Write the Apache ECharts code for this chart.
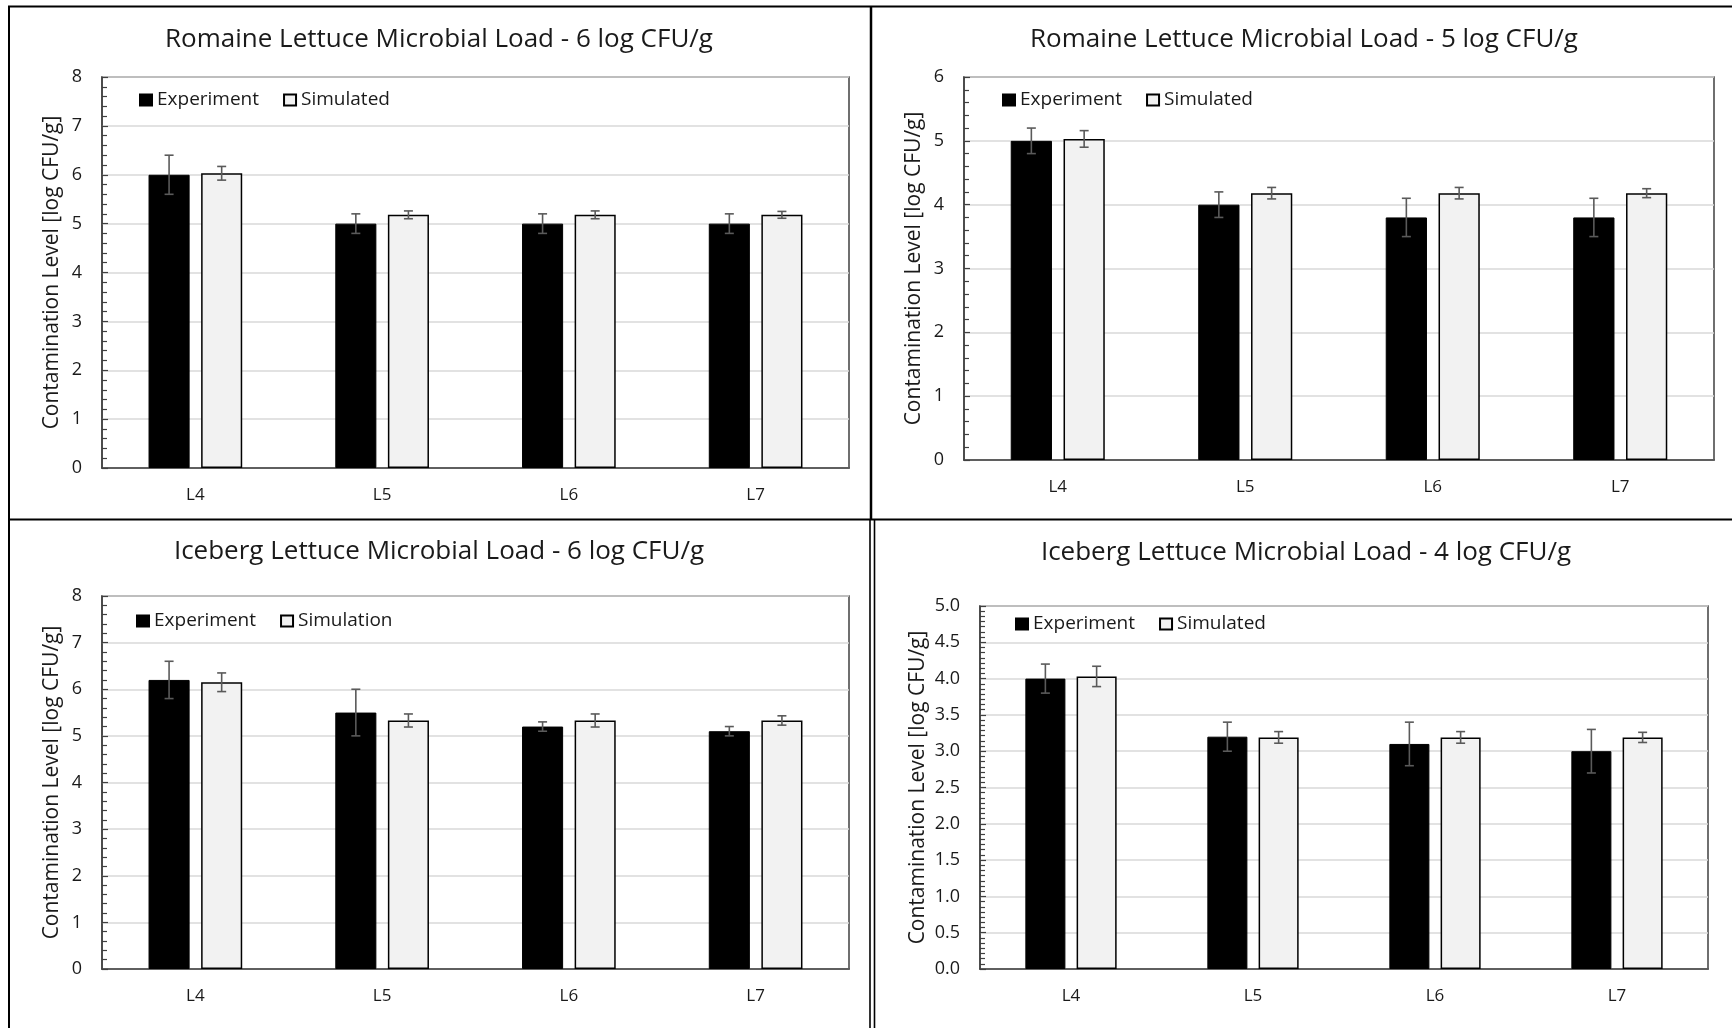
<!DOCTYPE html>
<html>
<head>
<meta charset="utf-8">
<script src="https://cdn.jsdelivr.net/npm/echarts@6/dist/echarts.min.js"></script>
<style>
html,body{margin:0;padding:0;background:#fff;}
#chart{width:1732px;height:1028px;}
</style>
</head>
<body>
<div id="chart"></div>
<script>
// ---- data ----
const categories = ['L4', 'L5', 'L6', 'L7'];

const romaine6Exp = [6.0, 5.0, 5.0, 5.0];
const romaine6ExpErr = [0.4, 0.2, 0.2, 0.2];
const romaine6Sim = [6.03, 5.18, 5.18, 5.18];
const romaine6SimErr = [0.14, 0.08, 0.08, 0.07];

const romaine5Exp = [5.0, 4.0, 3.8, 3.8];
const romaine5ExpErr = [0.2, 0.2, 0.3, 0.3];
const romaine5Sim = [5.03, 4.18, 4.18, 4.18];
const romaine5SimErr = [0.13, 0.09, 0.09, 0.07];

const iceberg6Exp = [6.2, 5.5, 5.2, 5.1];
const iceberg6ExpErr = [0.4, 0.5, 0.1, 0.1];
const iceberg6Sim = [6.15, 5.33, 5.33, 5.33];
const iceberg6SimErr = [0.2, 0.14, 0.14, 0.1];

const iceberg4Exp = [4.0, 3.2, 3.1, 3.0];
const iceberg4ExpErr = [0.2, 0.2, 0.3, 0.3];
const iceberg4Sim = [4.03, 3.19, 3.19, 3.19];
const iceberg4SimErr = [0.14, 0.08, 0.08, 0.07];

const titles = [
  'Romaine Lettuce Microbial Load - 6 log CFU/g',
  'Romaine Lettuce Microbial Load - 5 log CFU/g',
  'Iceberg Lettuce Microbial Load - 6 log CFU/g',
  'Iceberg Lettuce Microbial Load - 4 log CFU/g'
];
const yAxisName = 'Contamination Level [log CFU/g]';
const expName = 'Experiment';
const simNames = ['Simulated', 'Simulated', 'Simulation', 'Simulated'];
const yMax = [8, 6, 8, 5];
const yInterval = [1, 1, 1, 0.5];
const yMinorSplit = [5, 5, 5, 7];

const panels = [
  {exp: romaine6Exp, expErr: romaine6ExpErr, sim: romaine6Sim, simErr: romaine6SimErr},
  {exp: romaine5Exp, expErr: romaine5ExpErr, sim: romaine5Sim, simErr: romaine5SimErr},
  {exp: iceberg6Exp, expErr: iceberg6ExpErr, sim: iceberg6Sim, simErr: iceberg6SimErr},
  {exp: iceberg4Exp, expErr: iceberg4ExpErr, sim: iceberg4Sim, simErr: iceberg4SimErr}
];

// ---- layout ----
const FONT = '"Open Sans", "Noto Sans", sans-serif';
const TXT = '#1a1a1a';
const grids = [
  {left: 102, top: 77, width: 747, height: 391},
  {left: 964, top: 77, width: 750, height: 383},
  {left: 102, top: 596, width: 747, height: 373},
  {left: 980, top: 606, width: 728, height: 363}
];
const titlePos = [[439, 27], [1304, 27], [439, 539], [1306, 540]];
const legendPos = [[139, 90], [1002, 90], [136, 611], [1015, 614]];
const nameGaps = [39, 39, 39, 51];
const xLabelMargins = [19, 19, 19, 19];
const BAR_W = 0.22, BAR_GAP = 0.28;

function errRender(side) {
  return function (params, api) {
    const xi = api.value(0);
    const lo = api.coord([xi, api.value(1)]);
    const hi = api.coord([xi, api.value(2)]);
    const band = api.size([1, 0])[0];
    const w = band * BAR_W;
    const off = side * (w + w * BAR_GAP) / 2;
    const x = lo[0] + off;
    const cap = 4.5;
    const st = {stroke: '#5a5a5a', lineWidth: 1.6};
    return {
      type: 'group',
      children: [
        {type: 'line', shape: {x1: x, y1: hi[1], x2: x, y2: lo[1]}, style: st},
        {type: 'line', shape: {x1: x - cap, y1: hi[1], x2: x + cap, y2: hi[1]}, style: st},
        {type: 'line', shape: {x1: x - cap, y1: lo[1], x2: x + cap, y2: lo[1]}, style: st}
      ]
    };
  };
}

const option = {
  animation: false,
  backgroundColor: '#fff',
  title: [], legend: [], grid: [], xAxis: [], yAxis: [], series: [],
  graphic: [
    {type: 'line', shape: {x1: 8, y1: 6.5, x2: 1732, y2: 6.5}, style: {stroke: '#000', lineWidth: 2}},
    {type: 'line', shape: {x1: 9, y1: 6, x2: 9, y2: 1028}, style: {stroke: '#000', lineWidth: 2}},
    {type: 'line', shape: {x1: 8, y1: 519.5, x2: 1732, y2: 519.5}, style: {stroke: '#000', lineWidth: 2}},
    {type: 'line', shape: {x1: 871, y1: 6, x2: 871, y2: 520}, style: {stroke: '#000', lineWidth: 2.5}},
    {type: 'line', shape: {x1: 870, y1: 519, x2: 870, y2: 1028}, style: {stroke: '#000', lineWidth: 1.6}},
    {type: 'line', shape: {x1: 874.5, y1: 519, x2: 874.5, y2: 1028}, style: {stroke: '#000', lineWidth: 1.6}}
  ]
};

panels.forEach(function (p, i) {
  const g = grids[i];
  option.title.push({
    text: titles[i], left: titlePos[i][0], top: titlePos[i][1], textAlign: 'center', padding: 0,
    textStyle: {fontFamily: FONT, fontSize: 26, fontWeight: 'normal', color: TXT}
  });
  option.legend.push({
    data: [expName, simNames[i]],
    left: legendPos[i][0], top: legendPos[i][1], padding: 0,
    itemWidth: 12, itemHeight: 11, itemGap: 24, icon: 'rect',
    textStyle: {fontFamily: FONT, fontSize: 19, color: TXT, lineHeight: 20}
  });
  option.grid.push({
    left: g.left, top: g.top, width: g.width, height: g.height,
    show: true, borderColor: '#404040', borderWidth: 1.5, backgroundColor: 'transparent'
  });
  option.xAxis.push({
    type: 'category', gridIndex: i, data: categories,
    axisLine: {show: true, lineStyle: {color: '#404040', width: 1.5}},
    axisTick: {show: false},
    axisLabel: {fontFamily: FONT, fontSize: 17, color: TXT, margin: xLabelMargins[i]}
  });
  option.yAxis.push({
    type: 'value', gridIndex: i, min: 0, max: yMax[i], interval: yInterval[i],
    name: yAxisName, nameLocation: 'middle', nameGap: nameGaps[i],
    nameTextStyle: {fontFamily: FONT, fontSize: 21, color: TXT},
    axisLine: {show: true, lineStyle: {color: '#404040', width: 1.5}},
    axisTick: {show: true, inside: true, length: 6, lineStyle: {color: '#404040', width: 1.2}},
    minorTick: {show: true, splitNumber: yMinorSplit[i], length: 5, lineStyle: {color: '#404040', width: 1.2}},
    splitLine: {show: true, lineStyle: {color: '#d9d9d9', width: 1.5}},
    minorSplitLine: {show: false},
    axisLabel: {
      fontFamily: FONT, fontSize: 18, color: TXT, margin: 20,
      formatter: yInterval[i] < 1 ? function (v) { return v.toFixed(1); } : function (v) { return String(v); }
    }
  });
  option.series.push({
    name: expName, type: 'bar', xAxisIndex: i, yAxisIndex: i, data: p.exp,
    barWidth: (BAR_W * 100) + '%', barGap: (BAR_GAP * 100) + '%',
    itemStyle: {color: '#000', borderColor: '#000', borderWidth: 1}
  });
  option.series.push({
    name: simNames[i], type: 'bar', xAxisIndex: i, yAxisIndex: i, data: p.sim,
    barWidth: (BAR_W * 100) + '%', barGap: (BAR_GAP * 100) + '%',
    itemStyle: {color: '#f2f2f2', borderColor: '#000', borderWidth: 1.5}
  });
  option.series.push({
    type: 'custom', xAxisIndex: i, yAxisIndex: i, z: 10,
    renderItem: errRender(-1),
    encode: {x: 0, y: [1, 2]},
    data: p.exp.map(function (v, k) { return [k, v - p.expErr[k], v + p.expErr[k]]; })
  });
  option.series.push({
    type: 'custom', xAxisIndex: i, yAxisIndex: i, z: 10,
    renderItem: errRender(1),
    encode: {x: 0, y: [1, 2]},
    data: p.sim.map(function (v, k) { return [k, v - p.simErr[k], v + p.simErr[k]]; })
  });
});

const chart = echarts.init(document.getElementById('chart'), null, {renderer: 'canvas'});
chart.setOption(option);
</script>
</body>
</html>
